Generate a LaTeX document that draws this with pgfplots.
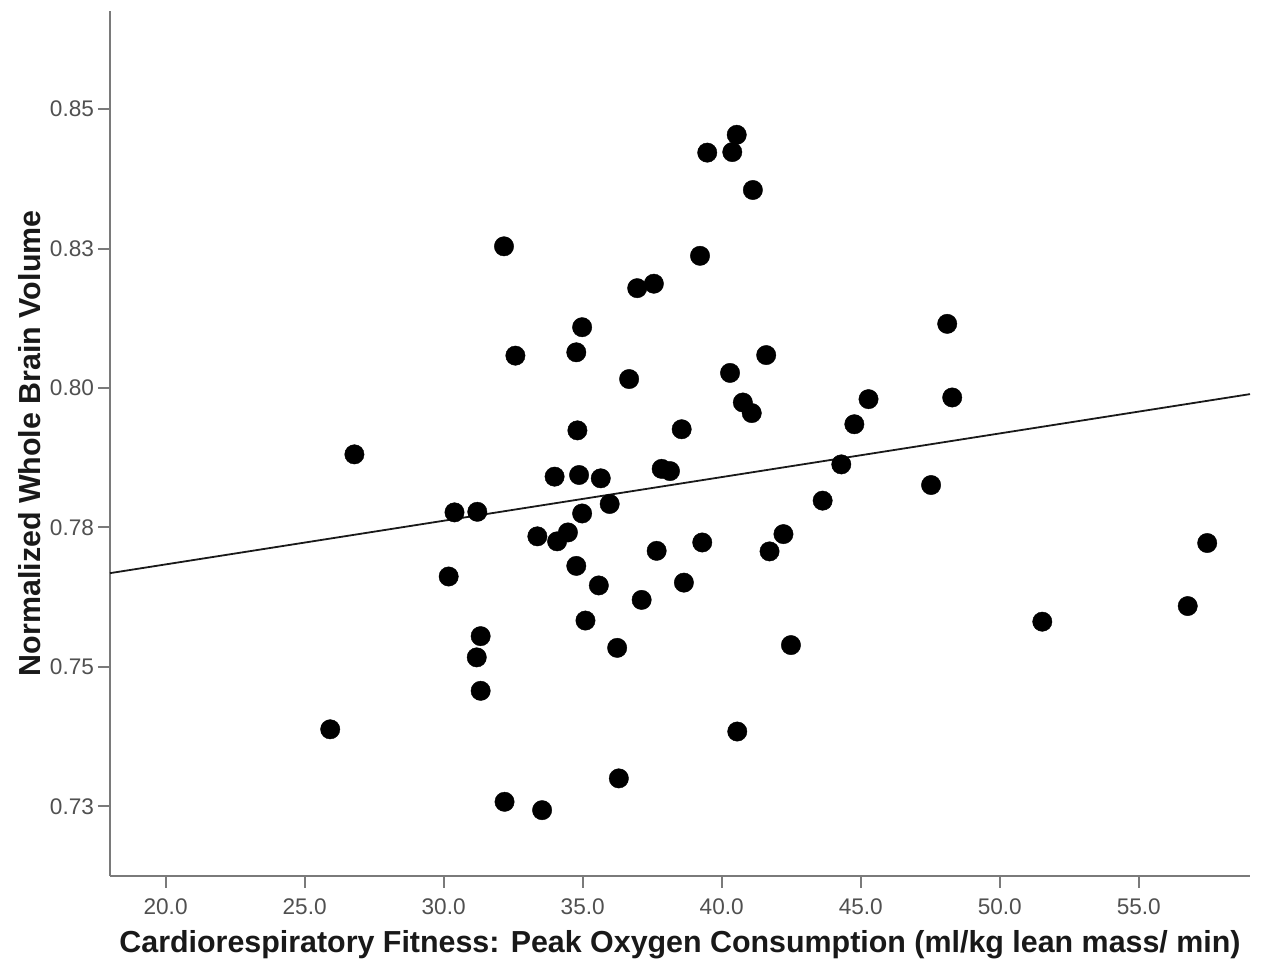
\documentclass[border=0pt]{standalone}
\usepackage{fontspec}
\setmainfont{Liberation Sans}
\usepackage{pgfplots}
\pgfplotsset{compat=1.18}
\definecolor{axgray}{HTML}{7A7A7A}
\definecolor{lblgray}{HTML}{505050}
\begin{document}
\begin{tikzpicture}
\begin{axis}[name=ax, scale only axis, width=570pt, height=432.35pt,
  xmin=18, xmax=59, ymin=0.71255, ymax=0.8676,
  axis x line*=bottom, axis y line*=left,
  axis line style={axgray, line width=1pt, -},
  xtick={20,25,30,35,40,45,50,55},
  xticklabels={20.0,25.0,30.0,35.0,40.0,45.0,50.0,55.0},
  ytick={0.725,0.75,0.775,0.8,0.825,0.85},
  yticklabels={0.73,0.75,0.78,0.80,0.83,0.85},
  tick align=outside, major tick length=6pt,
  tick style={axgray, line width=1pt},
  ticklabel style={font=\fontsize{11.3}{13}\selectfont, text=lblgray},
  xticklabel style={yshift=-2pt},
  yticklabel style={xshift=1.5pt},
  /pgf/number format/assume math mode=true,
  xlabel={Cardiorespiratory Fitness: Peak Oxygen Consumption (ml/kg lean mass/ min)},
  ylabel={Normalized Whole Brain Volume},
  label style={font=\bfseries\fontsize{15.2}{17}\selectfont, text=black!90},
  xlabel style={at={(axis description cs:0.5,-0.0803)}, anchor=center},
  ylabel style={at={(axis description cs:-0.0702,0.5)}, anchor=center, rotate=0},
  clip=false,
]
\addplot[black!90, line width=0.9pt] coordinates {(18,0.7668) (59,0.7989)};
\addplot[only marks, mark=*, mark size=4.85pt, mark options={fill=black, draw=black, line width=0.2pt}] coordinates {
(25.92,0.7388) (26.79,0.7881) (30.18,0.7662) (30.39,0.7777) (31.21,0.7778)
(31.33,0.7555) (31.19,0.7517) (31.33,0.7457) (32.17,0.8254) (32.19,0.7258)
(32.58,0.8058) (33.37,0.7734) (33.54,0.7243) (33.99,0.7841) (34.08,0.7725)
(34.47,0.7741) (34.77,0.8064) (34.81,0.7924) (34.77,0.7681) (34.98,0.8109)
(34.87,0.7844) (34.98,0.7775) (35.10,0.7583) (35.58,0.7646) (35.65,0.7838)
(35.97,0.7792) (36.24,0.7534) (36.30,0.7300) (36.67,0.8016) (36.96,0.8179)
(37.12,0.7620) (37.56,0.8187) (37.66,0.7708) (37.84,0.7855) (38.14,0.7851)
(38.56,0.7926) (38.64,0.7651) (39.22,0.8237) (39.30,0.7723) (39.48,0.8422)
(40.30,0.8027) (40.38,0.8423) (40.54,0.8454) (40.56,0.7384) (40.76,0.7974)
(41.08,0.7955) (41.12,0.8355) (41.60,0.8059) (41.72,0.7707) (42.22,0.7738)
(42.49,0.7539) (43.63,0.7798) (44.30,0.7863) (44.77,0.7935) (45.28,0.7980)
(47.53,0.7826) (48.11,0.8115) (48.29,0.7983) (51.53,0.7581) (56.76,0.7609)
(57.46,0.7722)
};
\end{axis}
\pgfresetboundingbox
\path ([shift={(-55pt,-45.65pt)}]ax.south west) rectangle ([shift={(5.5pt,5.5pt)}]ax.north east);
\end{tikzpicture}
\end{document}
